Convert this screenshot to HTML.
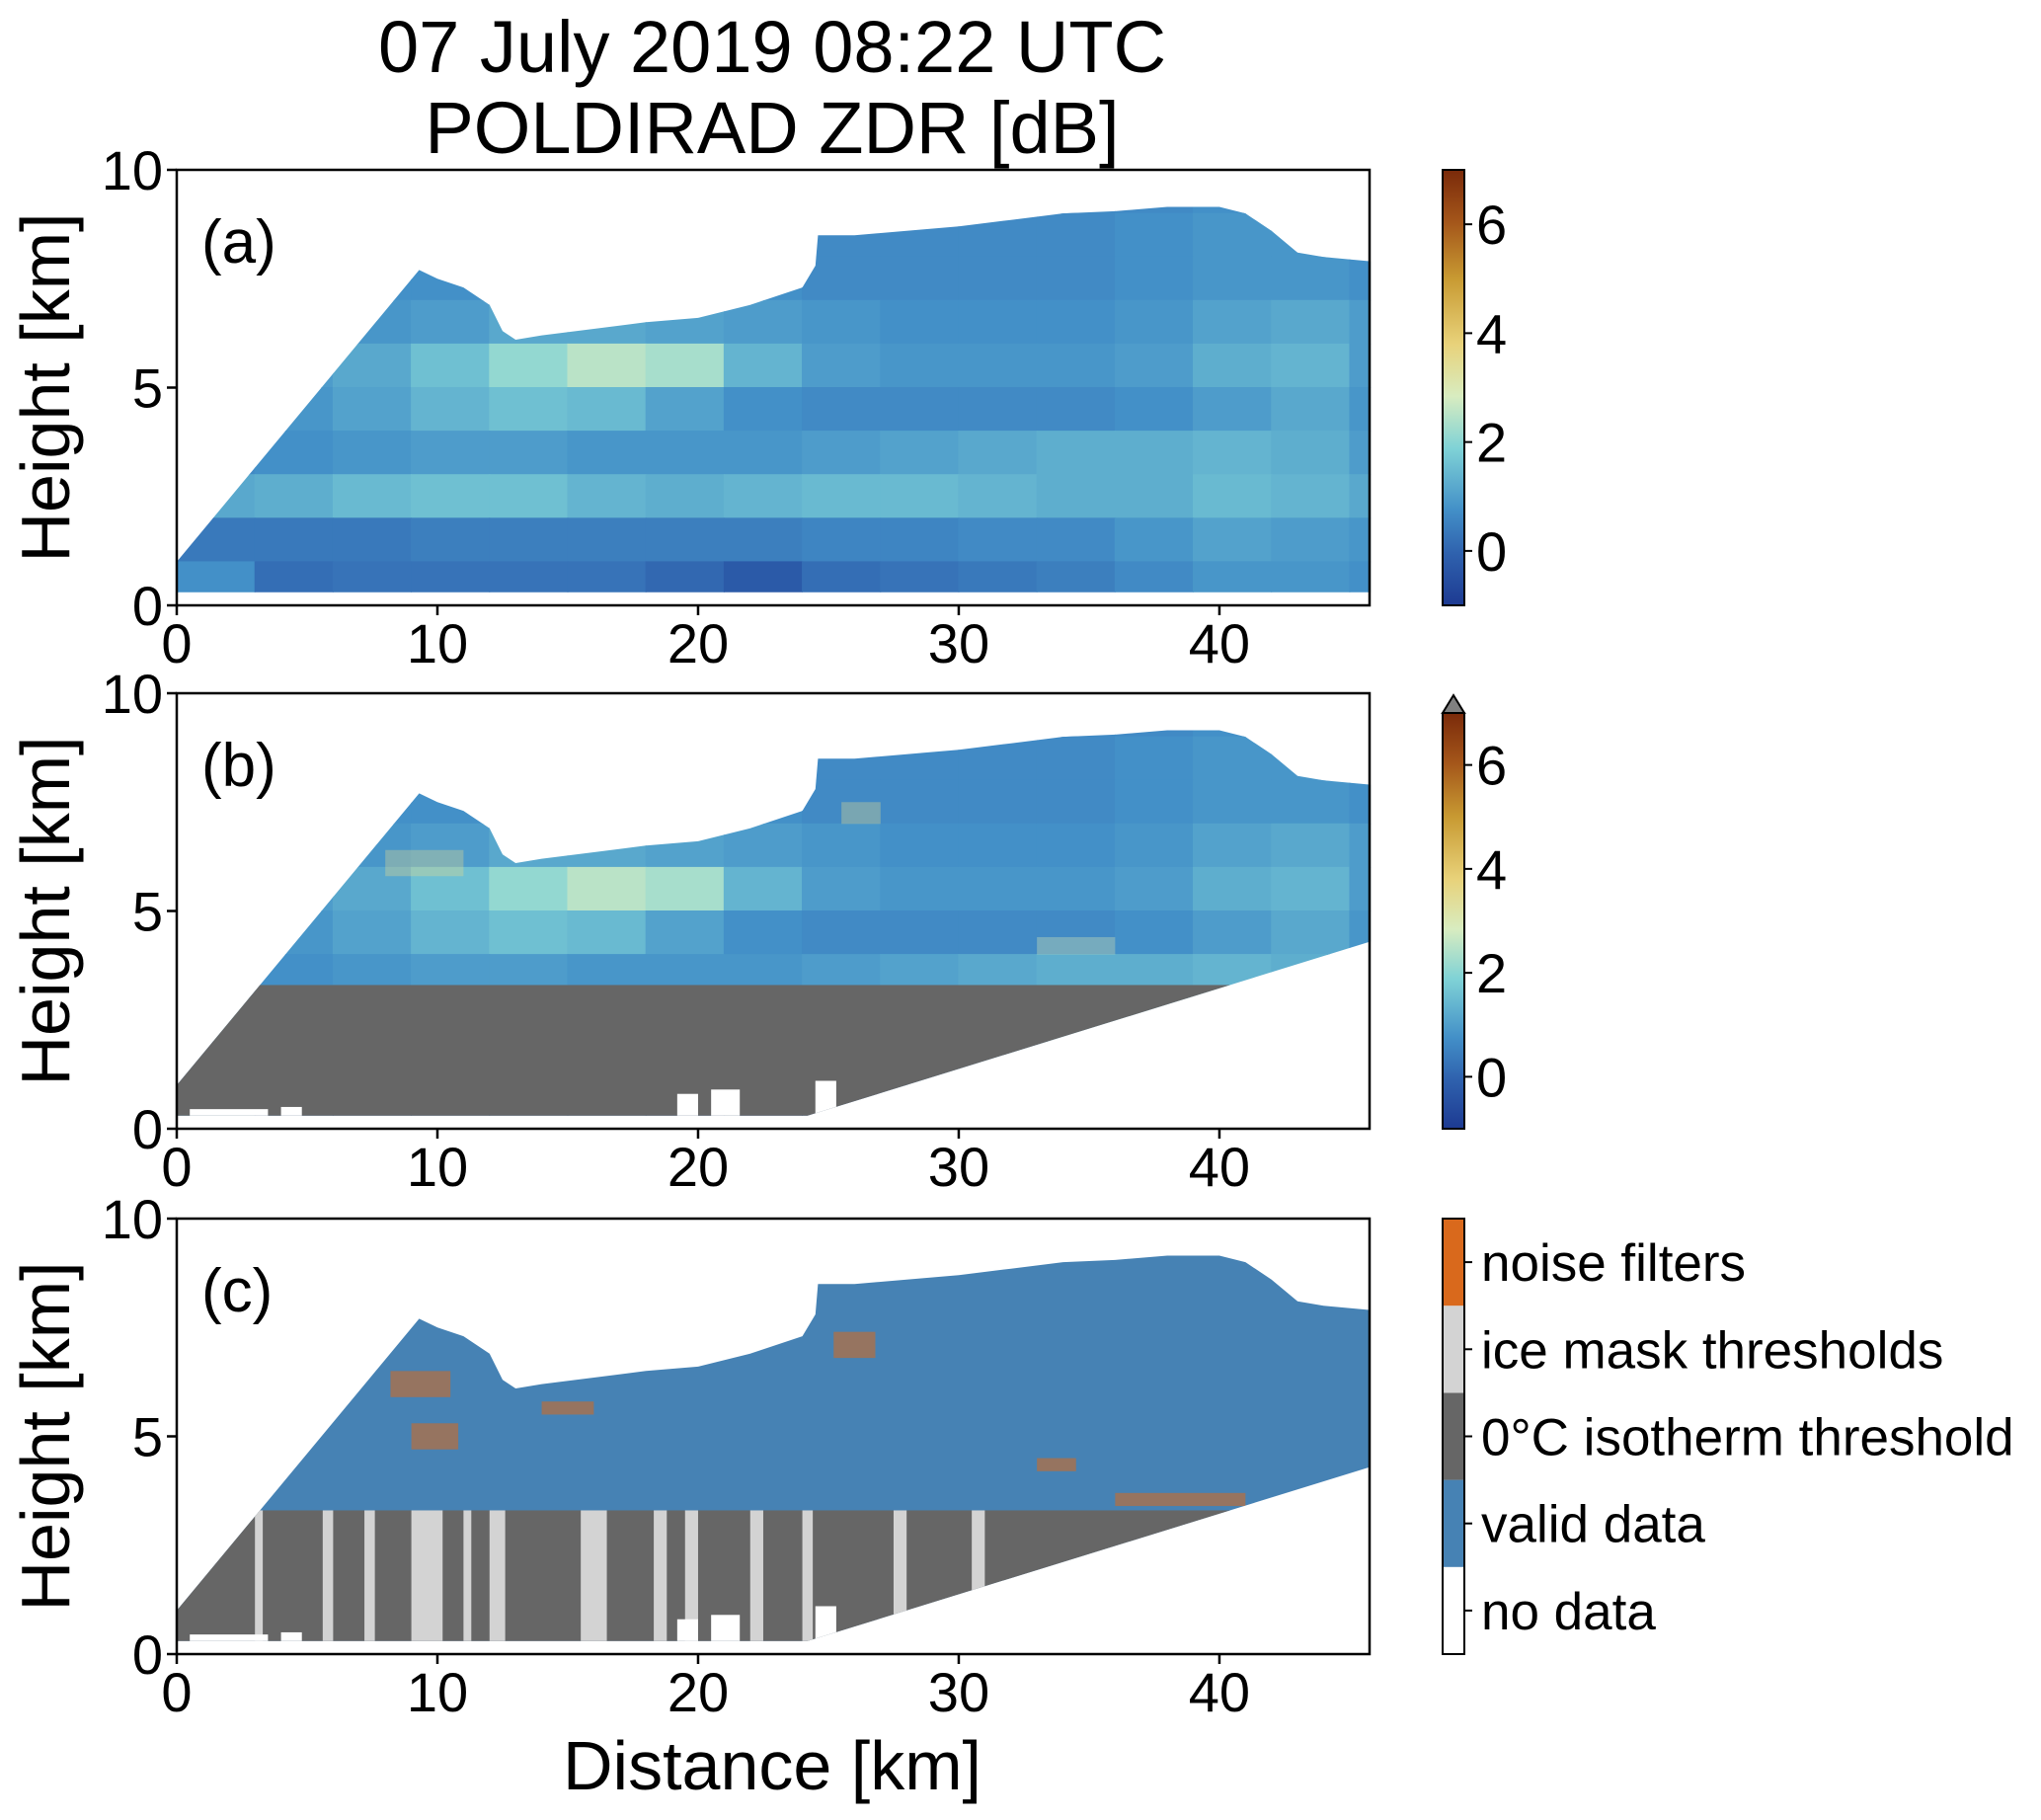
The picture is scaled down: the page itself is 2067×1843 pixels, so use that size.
<!DOCTYPE html>
<html><head><meta charset="utf-8"><style>
html,body{margin:0;padding:0;background:#fff}
svg{display:block;font-family:"Liberation Sans",Arial,sans-serif}
</style></head><body>
<svg id="fig" width="2067" height="1843" viewBox="0 0 2067 1843" xmlns="http://www.w3.org/2000/svg">
<defs>
<linearGradient id="zdrGrad" x1="0" y1="1" x2="0" y2="0">
<stop offset="0" stop-color="#1d3a92"/>
<stop offset="0.12" stop-color="#2f62ae"/>
<stop offset="0.22" stop-color="#4390c8"/>
<stop offset="0.36" stop-color="#7fd2d6"/>
<stop offset="0.48" stop-color="#d8ecc0"/>
<stop offset="0.6" stop-color="#e8d27a"/>
<stop offset="0.75" stop-color="#c89a32"/>
<stop offset="0.88" stop-color="#a4561a"/>
<stop offset="1" stop-color="#7a2a0a"/>
</linearGradient>
</defs>
<text x="782" y="73" font-size="74" text-anchor="middle">07 July 2019 08:22 UTC</text>
<text x="782" y="155" font-size="74" text-anchor="middle">POLDIRAD ZDR [dB]</text>
<text x="782" y="1812" font-size="70" text-anchor="middle">Distance [km]</text>
<g id="panels"></g>
</svg>
<script>
// ---- data ----
const xTicks = [0, 10, 20, 30, 40];
const yTicks = [0, 5, 10];
const cbTicks = [0, 2, 4, 6];
const echoTopDist = [9.3, 10, 11, 12, 12.5, 13, 14, 16, 18, 20, 22, 24, 24.5, 24.6, 26, 28, 30, 32, 34, 36, 38, 40, 41, 42, 43, 44, 45.8];
const echoTopHeight = [7.7, 7.5, 7.3, 6.9, 6.3, 6.1, 6.2, 6.35, 6.5, 6.6, 6.9, 7.3, 7.8, 8.5, 8.5, 8.6, 8.7, 8.85, 9.0, 9.05, 9.15, 9.15, 9.0, 8.6, 8.1, 8.0, 7.9];
const leftEdgeDist = [0, 9.3];
const leftEdgeHeight = [1.0, 7.7];
const lowerEdgeDist = [24.2, 45.8];
const lowerEdgeHeight = [0.3, 4.3];
const isothermHeight = 3.3;
const dataBottom = 0.3;
const gridCols = [1.5, 4.5, 7.5, 10.5, 13.5, 16.5, 19.5, 22.5, 25.5, 28.5, 31.5, 34.5, 37.5, 40.5, 43.5, 46.5];
const gridRows = [9.5, 8.5, 7.5, 6.5, 5.5, 4.5, 3.5, 2.5, 1.5, 0.5];
const zdrRow95 = [0.7,0.7,0.7,0.7,0.7,0.7,0.7,0.7,0.7,0.7,0.7,0.7,0.7,0.8,0.8,0.7];
const zdrRow85 = [0.7,0.7,0.7,0.7,0.7,0.7,0.7,0.7,0.7,0.7,0.7,0.7,0.8,0.9,0.9,0.8];
const zdrRow75 = [0.8,0.8,0.8,0.8,0.8,0.8,0.8,0.8,0.7,0.7,0.7,0.7,0.8,0.9,0.9,0.8];
const zdrRow65 = [0.8,0.8,0.9,1.0,1.2,1.2,1.1,1.0,0.9,0.8,0.8,0.8,0.9,1.1,1.2,1.0];
const zdrRow55 = [0.9,1.0,1.2,1.6,2.1,2.5,2.3,1.4,1.0,0.9,0.9,0.9,1.0,1.3,1.4,1.0];
const zdrRow45 = [0.8,0.9,1.1,1.4,1.6,1.5,1.1,0.8,0.7,0.7,0.7,0.7,0.8,1.0,1.2,0.9];
const zdrRow35 = [0.7,0.8,0.9,1.0,1.0,0.9,0.9,0.9,1.0,1.1,1.2,1.3,1.3,1.4,1.3,1.0];
const zdrRow25 = [1.2,1.3,1.5,1.6,1.6,1.4,1.3,1.4,1.5,1.5,1.4,1.3,1.3,1.5,1.4,1.2];
const zdrRow15 = [0.4,0.4,0.4,0.5,0.5,0.5,0.5,0.5,0.6,0.6,0.7,0.7,0.9,1.1,1.0,0.9];
const zdrRow05 = [0.8,0.2,0.3,0.3,0.3,0.3,0.1,-0.2,0.2,0.3,0.4,0.5,0.7,0.9,0.9,0.8];
const zdrGrid = [zdrRow95,zdrRow85,zdrRow75,zdrRow65,zdrRow55,zdrRow45,zdrRow35,zdrRow25,zdrRow15,zdrRow05];
const bPatchDist0 = [8, 25.5, 33];
const bPatchDist1 = [11, 27, 36];
const bPatchH0 = [5.8, 7.0, 4.0];
const bPatchH1 = [6.4, 7.5, 4.4];
const bPatchVal = [3.5, 3.5, 3.0];
const holeDist0 = [19.2, 20.5, 24.5, 0.5, 4.0];
const holeDist1 = [20.0, 21.6, 25.3, 3.5, 4.8];
const holeTop = [0.8, 0.9, 1.1, 0.45, 0.5];
const iceDist0 = [3.0, 5.6, 7.2, 9.0, 11.0, 12.0, 15.5, 18.3, 19.5, 22.0, 24.0, 27.5, 30.5];
const iceDist1 = [3.3, 6.0, 7.6, 10.2, 11.3, 12.6, 16.5, 18.8, 20.0, 22.5, 24.4, 28.0, 31.0];
const noiseDist0 = [8.2, 9.0, 25.2, 33.0, 36.0, 14.0];
const noiseDist1 = [10.5, 10.8, 26.8, 34.5, 41.0, 16.0];
const noiseH0 = [5.9, 4.7, 6.8, 4.2, 3.4, 5.5];
const noiseH1 = [6.5, 5.3, 7.4, 4.5, 3.7, 5.8];
const legendLabels = ["no data", "valid data", "0\u00b0C isotherm threshold", "ice mask thresholds", "noise filters"];
const legendColors = ["#ffffff", "#4682b4", "#666666", "#d3d3d3", "#d9691c"];

// ---- layout ----
const X0 = 179, X1 = 1387, XMAX = 45.76;
const panelTops = [172, 702, 1234];
const PH = 441;
const NS = "http://www.w3.org/2000/svg";
const root = document.getElementById('panels');
function el(tag, attrs, parent) {
  const e = document.createElementNS(NS, tag);
  for (const k in attrs) e.setAttribute(k, attrs[k]);
  (parent || root).appendChild(e);
  return e;
}
function xs(d) { return X0 + d / XMAX * (X1 - X0); }
function ysF(top) { return h => top + PH - h / 10 * PH; }
const cmapStops = [[-1,[29,58,146]],[0,[47,98,174]],[0.8,[67,144,200]],[1.9,[127,210,214]],[2.8,[216,236,192]],[3.8,[232,210,122]],[5,[200,154,50]],[6,[164,86,26]],[7,[122,42,10]]];
function cmap(v) {
  if (v <= cmapStops[0][0]) return 'rgb(' + cmapStops[0][1] + ')';
  for (let i = 1; i < cmapStops.length; i++) {
    if (v <= cmapStops[i][0]) {
      const a = cmapStops[i-1], b = cmapStops[i], t = (v - a[0]) / (b[0] - a[0]);
      return 'rgb(' + a[1].map((c, j) => Math.round(c + (b[1][j] - c) * t)).join(',') + ')';
    }
  }
  return 'rgb(' + cmapStops[cmapStops.length-1][1] + ')';
}
function echoPoly(y, lower) {
  const pts = [];
  pts.push([0, dataBottom]);
  for (let i = 0; i < leftEdgeDist.length; i++) pts.push([leftEdgeDist[i], leftEdgeHeight[i]]);
  for (let i = 0; i < echoTopDist.length; i++) pts.push([echoTopDist[i], echoTopHeight[i]]);
  if (lower) {
    for (let i = lowerEdgeDist.length - 1; i >= 0; i--) pts.push([lowerEdgeDist[i], lowerEdgeHeight[i]]);
  } else {
    pts.push([45.8, dataBottom]);
  }
  return pts.map(p => xs(p[0]).toFixed(1) + ',' + y(p[1]).toFixed(1)).join(' ');
}
const defs = document.querySelector('defs');

panelTops.forEach((top, pi) => {
  const y = ysF(top);
  const g = el('g', {});
  
  
  const cp = el('clipPath', { id: 'clip' + pi }, defs);
  el('polygon', { points: echoPoly(y, pi > 0) }, cp);
  const field = el('g', { 'clip-path': 'url(#clip' + pi + ')' }, g);
  
  
  const cw = gridCols[1] - gridCols[0], rh = gridRows[0] - gridRows[1];
  if (pi < 2) {
    zdrGrid.forEach((row, ri) => {
      row.forEach((v, ci) => {
        const r = el('rect', { x: xs(gridCols[ci] - cw/2) - 0.5, y: y(gridRows[ri] + rh/2) - 0.5, width: xs(cw) - X0 + 1, height: rh / 10 * PH + 1, fill: cmap(v) }, field);
        
        
      });
    });
    if (pi === 1) {
      bPatchDist0.forEach((d0, i) => {
        const r = el('rect', { x: xs(d0), y: y(bPatchH1[i]), width: xs(bPatchDist1[i]) - xs(d0), height: y(bPatchH0[i]) - y(bPatchH1[i]), fill: cmap(bPatchVal[i]), opacity: 0.35 }, field);
        
        
      });
    }
  } else {
    const r = el('rect', { x: X0, y: top, width: X1 - X0, height: PH, fill: '#4682b4' }, field);
    
    
    noiseDist0.forEach((d0, i) => {
      const n = el('rect', { x: xs(d0), y: y(noiseH1[i]), width: xs(noiseDist1[i]) - xs(d0), height: y(noiseH0[i]) - y(noiseH1[i]), fill: '#d9691c', opacity: 0.55 }, field);
      
      
    });
  }
  if (pi > 0) {
    const gr = el('rect', { x: X0, y: y(isothermHeight), width: X1 - X0, height: y(0) - y(isothermHeight), fill: '#666666' }, field);
    
    
    if (pi === 2) {
      iceDist0.forEach((d0, i) => {
        const ic = el('rect', { x: xs(d0), y: y(isothermHeight), width: xs(iceDist1[i]) - xs(d0), height: y(0) - y(isothermHeight), fill: '#d3d3d3' }, field);
        
        
      });
    }
    holeDist0.forEach((d0, i) => {
      const h = el('rect', { x: xs(d0), y: y(holeTop[i]), width: xs(holeDist1[i]) - xs(d0), height: y(0) - y(holeTop[i]), fill: '#fff' }, field);
      
      
    });
  }
  const fr = el('rect', { x: X0, y: top, width: X1 - X0, height: PH, fill: 'none', stroke: '#000', 'stroke-width': 2.5 }, g);
  
  
  xTicks.forEach(t => {
    el('line', { x1: xs(t), x2: xs(t), y1: top + PH, y2: top + PH + 10, stroke: '#000', 'stroke-width': 2.5 }, g);
    const tx = el('text', { x: xs(t), y: top + PH + 58, 'font-size': 56, 'text-anchor': 'middle' }, g);
    tx.textContent = t;
    
    
  });
  yTicks.forEach(t => {
    el('line', { x1: X0 - 10, x2: X0, y1: y(t), y2: y(t), stroke: '#000', 'stroke-width': 2.5 }, g);
    const tx = el('text', { x: X0 - 14, y: y(t) + 20, 'font-size': 56, 'text-anchor': 'end' }, g);
    tx.textContent = t;
    
    
  });
  const yl = el('text', { x: 0, y: 0, 'font-size': 70, 'text-anchor': 'middle', transform: 'translate(70,' + (top + PH / 2) + ') rotate(-90)' }, g);
  yl.textContent = 'Height [km]';
  
  
  const pl = el('text', { x: 204, y: top + 94, 'font-size': 62 }, g);
  pl.textContent = '(' + 'abc'[pi] + ')';
  
  

  const CX = 1461, CW = 22;
  if (pi < 2) {
    const cbTop = pi === 0 ? top : top + 20;
    const cbBot = top + PH;
    const cb = el('g', {}, g);
    
    
    el('rect', { x: CX, y: cbTop, width: CW, height: cbBot - cbTop, fill: 'url(#zdrGrad)', stroke: '#000', 'stroke-width': 2 }, cb);
    if (pi === 1) el('polygon', { points: CX + ',' + cbTop + ' ' + (CX + CW) + ',' + cbTop + ' ' + (CX + CW / 2) + ',' + (top + 2), fill: '#808080', stroke: '#000', 'stroke-width': 2 }, cb);
    const cy = v => cbBot - (v + 1) / 8 * (cbBot - cbTop);
    cbTicks.forEach(t => {
      el('line', { x1: CX + CW, x2: CX + CW + 8, y1: cy(t), y2: cy(t), stroke: '#000', 'stroke-width': 2 }, cb);
      const tx = el('text', { x: CX + CW + 12, y: cy(t) + 20, 'font-size': 56 }, cb);
      tx.textContent = t;
      
      
    });
  } else {
    const cb = el('g', {}, g);
    
    
    const sh = PH / legendLabels.length;
    legendLabels.forEach((lab, i) => {
      const sy = top + PH - (i + 1) * sh;
      el('rect', { x: CX, y: sy, width: CW, height: sh, fill: legendColors[i] }, cb);
      el('line', { x1: CX + CW, x2: CX + CW + 8, y1: sy + sh / 2, y2: sy + sh / 2, stroke: '#000', 'stroke-width': 2 }, cb);
      const tx = el('text', { x: CX + CW + 17, y: sy + sh / 2 + 19, 'font-size': 53 }, cb);
      tx.textContent = lab;
      
      
    });
    el('rect', { x: CX, y: top, width: CW, height: PH, fill: 'none', stroke: '#000', 'stroke-width': 2 }, cb);
  }
});
</script>
</body></html>
